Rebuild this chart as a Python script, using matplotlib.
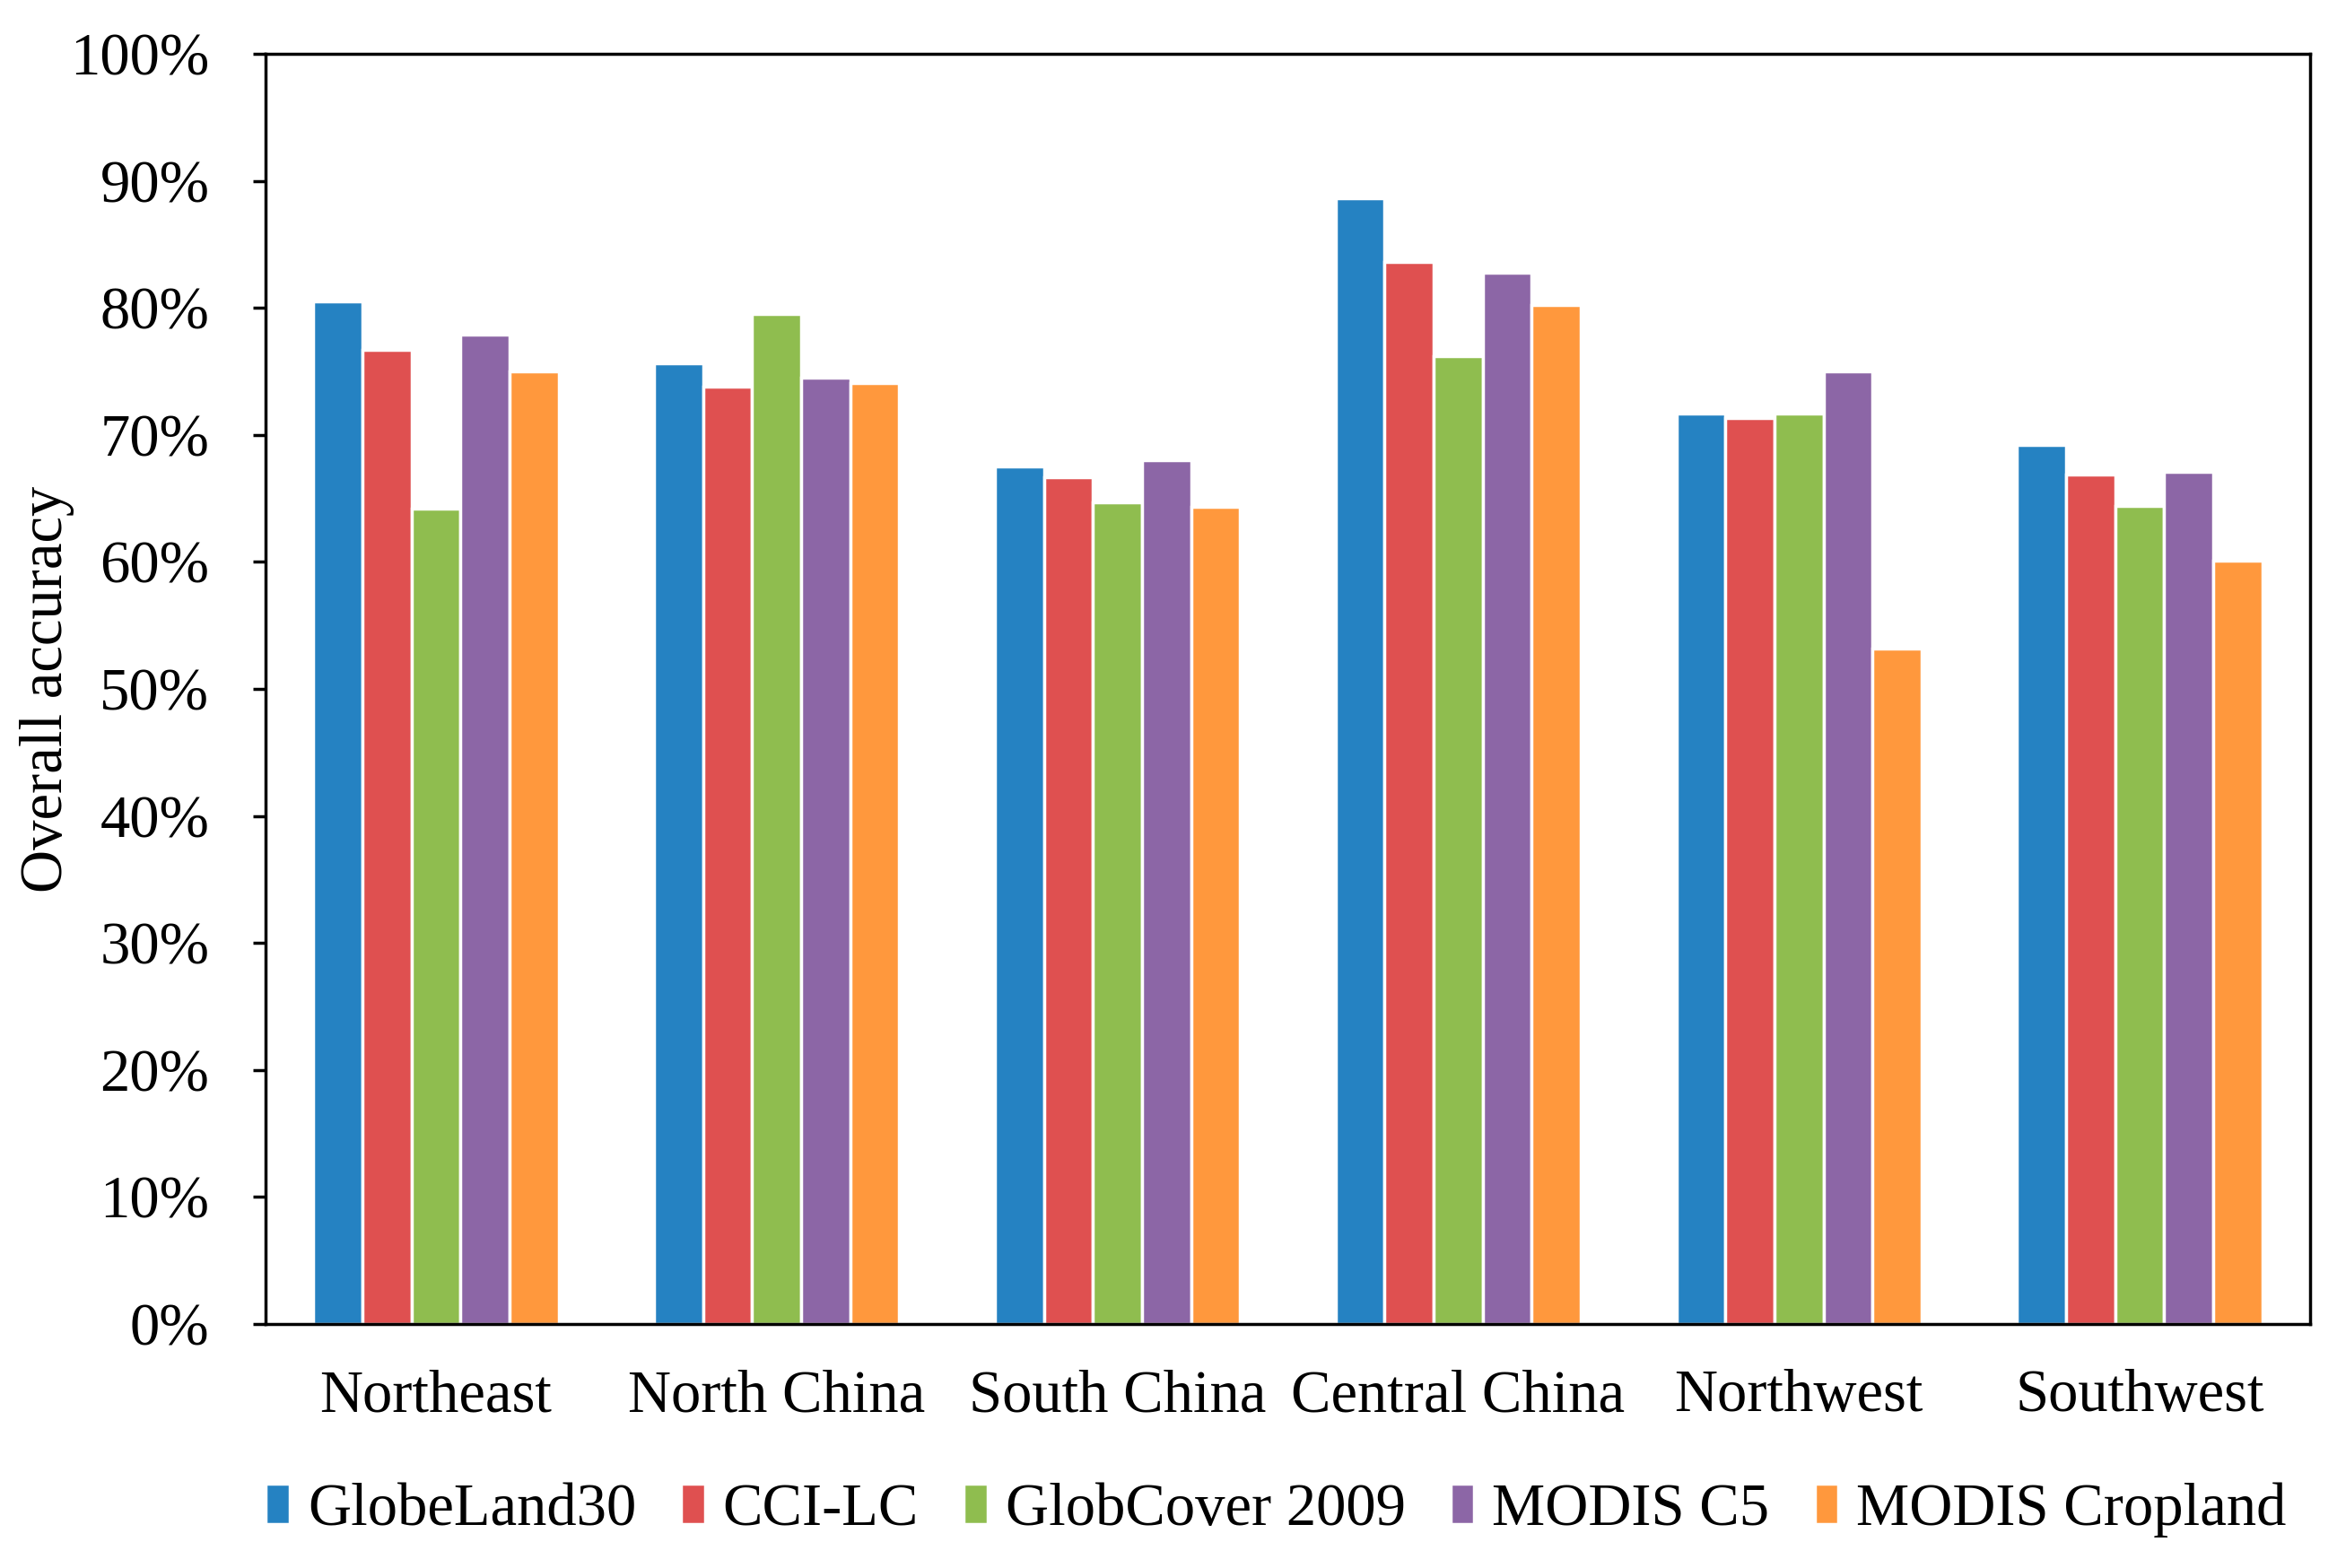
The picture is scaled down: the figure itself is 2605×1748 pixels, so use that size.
import matplotlib
matplotlib.use("Agg")
import matplotlib.pyplot as plt
import numpy as np
from matplotlib.ticker import FuncFormatter

plt.rcParams['font.family'] = ['Liberation Serif', 'DejaVu Serif']

regions = ["Northeast", "North China", "South China", "Central China", "Northwest", "Southwest"]
series_names = ["GlobeLand30", "CCI-LC", "GlobCover 2009", "MODIS C5", "MODIS Cropland"]
globeland30 = [80.5, 75.6, 67.5, 88.6, 71.7, 69.2]
cci_lc = [76.7, 73.8, 66.7, 83.6, 71.3, 66.9]
globcover2009 = [64.2, 79.5, 64.7, 76.2, 71.7, 64.4]
modis_c5 = [77.9, 74.5, 68.0, 82.8, 75.0, 67.1]
modis_cropland = [75.0, 74.1, 64.3, 80.2, 53.2, 60.1]
yticks = [0, 10, 20, 30, 40, 50, 60, 70, 80, 90, 100]

series = [globeland30, cci_lc, globcover2009, modis_c5, modis_cropland]
colors = ["#2582C2", "#DF5050", "#8FBD4F", "#8C66A6", "#FF983D"]

fig = plt.figure(figsize=(26.05, 17.48), dpi=100)
ax = fig.add_axes([0.1136, 0.1556, 0.8749, 0.8101])

x = np.arange(len(regions))
w = 0.144
for i, (vals, c, name) in enumerate(zip(series, colors, series_names)):
    ax.bar(x + (i - 2) * w, vals, width=w, color=c, edgecolor='white',
           linewidth=2.5, label=name, zorder=2)

ax.set_xlim(-0.5, len(regions) - 0.5)
ax.set_ylim(0, 100)
ax.set_yticks(yticks)
ax.yaxis.set_major_formatter(FuncFormatter(lambda v, p: f"{int(v)}%"))
ax.set_xticks(x)
ax.set_xticklabels(regions)
ax.tick_params(axis='y', direction='out', length=10, width=2.5, pad=35, labelsize=48)
ax.tick_params(axis='x', length=0, pad=36, labelsize=48)
for s in ax.spines.values():
    s.set_linewidth(2.5)
    s.set_color('black')

ax.text(-0.1066, 0.5, "Overall accuracy", transform=ax.transAxes, rotation=90,
        ha='center', va='center', fontsize=48)

leg = fig.legend(loc='center', bbox_to_anchor=(0.546, 0.037), ncol=5, frameon=False,
                 fontsize=48, handlelength=0.4, handleheight=0.65, handletextpad=0.3,
                 columnspacing=0.75, borderpad=0)

fig.savefig("out.png", dpi=100)
